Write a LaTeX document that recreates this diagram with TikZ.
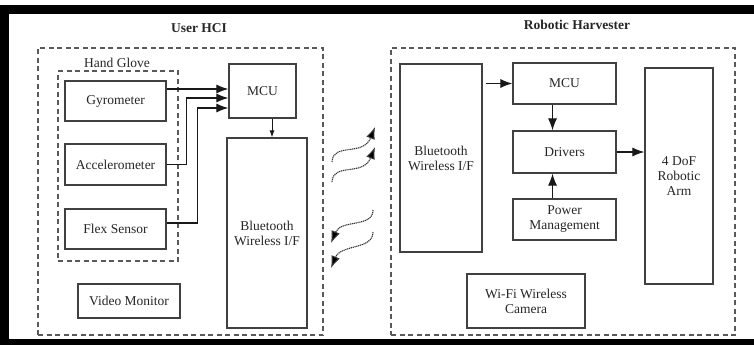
\documentclass[tikz,border=0pt]{standalone}
\usepackage{fontspec}
\setmainfont{Liberation Serif}
\usetikzlibrary{arrows.meta, positioning, calc}

\begin{document}
\begin{tikzpicture}[x=1pt, y=-1pt,
    font=\fontsize{13.5}{15}\selectfont,
    block/.style={draw=black!75, line width=1.2pt, text=black!85, align=center, inner sep=0pt},
    group/.style={draw=black!65, line width=1.2pt, dash pattern=on 5pt off 3.5pt, inner sep=0pt},
    title/.style={font=\fontsize{13.5}{15}\selectfont\bfseries, text=black!85},
    arr/.style={-{Latex[length=12pt,width=9pt]}, line width=1.1pt, draw=black!90},
    arrsmall/.style={-{Latex[length=7pt,width=5pt]}, line width=0.9pt, draw=black!90},
    wave/.style={-{Latex[length=12pt,width=9pt,fill=black]}, line width=1.1pt, draw=black!80, dash pattern=on 1.2pt off 0.7pt}]

    \useasboundingbox (0,0) rectangle (754,345);

    % Frame
    \fill[black] (0,5) rectangle (754,14);
    \fill[black] (0,5) rectangle (9,345);
    \fill[black] (0,339) rectangle (754,345);

    % User HCI
    \node[title] (hcititle) at (199,28) {User HCI};
    \node[group, minimum width=285pt, minimum height=287pt] (hci) at (180.5,191.5) {};
    \node[group, minimum width=120pt, minimum height=190pt] (glove) at (118,166) {};
    \node[text=black!85] (glovetitle) at (117,63) {Hand Glove};

    \node[block, minimum width=101pt, minimum height=40pt] (gyro) at (115.5,101) {Gyrometer};
    \node[block, minimum width=101pt, minimum height=41pt] (accel) at (115.5,164.5) {Accelerometer};
    \node[block, minimum width=101pt, minimum height=40pt] (flex) at (115.5,229) {Flex Sensor};
    \node[block, minimum width=67pt, minimum height=54pt] (mcuL) at (262.5,91) {MCU};
    \node[block, minimum width=80pt, minimum height=190pt] (btL) at (267,233) {Bluetooth\\Wireless I/F};
    \node[block, minimum width=102pt, minimum height=34pt] (video) at (129,301) {Video Monitor};

    % Sensor lines
    \draw[arr] ([yshift=12pt]gyro.east) -- ([yshift=12pt]gyro.east -| mcuL.west);
    \draw[arr] (accel.east) -- ++(20,0) |- ([yshift=-7pt]mcuL.west);
    \draw[arr] ([yshift=6pt]flex.east) -- ++(31,0) |- ([yshift=-17pt]mcuL.west);
    \draw[arrsmall] ([xshift=9.5pt]mcuL.south) -- ([xshift=9.5pt]mcuL.south |- btL.north);

    % Wireless link
    \coordinate (w1s) at (332,162);
    \coordinate (w1e) at (375,127);
    \coordinate (w2s) at (332,182);
    \coordinate (w2e) at (375,147);
    \coordinate (w3s) at (373,210);
    \coordinate (w3e) at (331,243);
    \coordinate (w4s) at (373,232);
    \coordinate (w4e) at (331,268);
    \draw[wave] (w1s) .. controls +(1,-20) and +(-12,30) .. (w1e);
    \draw[wave] (w2s) .. controls +(1,-20) and +(-12,30) .. (w2e);
    \draw[wave] (w3s) .. controls +(0,18) and +(10,-24) .. (w3e);
    \draw[wave] (w4s) .. controls +(0,18) and +(10,-24) .. (w4e);

    % Robotic Harvester
    \node[title] (harvtitle) at (577,25) {Robotic Harvester};
    \node[group, minimum width=344pt, minimum height=287pt] (harv) at (563,191.5) {};

    \node[block, minimum width=82pt, minimum height=188pt] (btR) at (441,158) {Bluetooth\\Wireless I/F};
    \node[block, minimum width=103pt, minimum height=41pt] (mcuR) at (564.5,83.5) {MCU};
    \node[block, minimum width=103pt, minimum height=42pt] (drivers) at (564.5,152) {Drivers};
    \node[block, minimum width=103pt, minimum height=41pt] (power) at (564.5,219.5) {Power\\Management};
    \node[block, minimum width=68pt, minimum height=216pt] (arm) at (679,176) {4 DoF\\Robotic\\Arm};
    \node[block, minimum width=118pt, minimum height=54pt] (camera) at (526,301) {Wi-Fi Wireless\\Camera};

    % Control lines
    \draw[arr] ([xshift=3pt]btR.east |- mcuR.west) -- (mcuR.west);
    \draw[arr] ([xshift=-12pt]mcuR.south) -- ([xshift=-12pt]drivers.north);
    \draw[arr] ([xshift=-12pt]power.north) -- ([xshift=-12pt]drivers.south);
    \draw[arr] (drivers.east) -- (drivers.east -| arm.west);
\end{tikzpicture}
\end{document}
